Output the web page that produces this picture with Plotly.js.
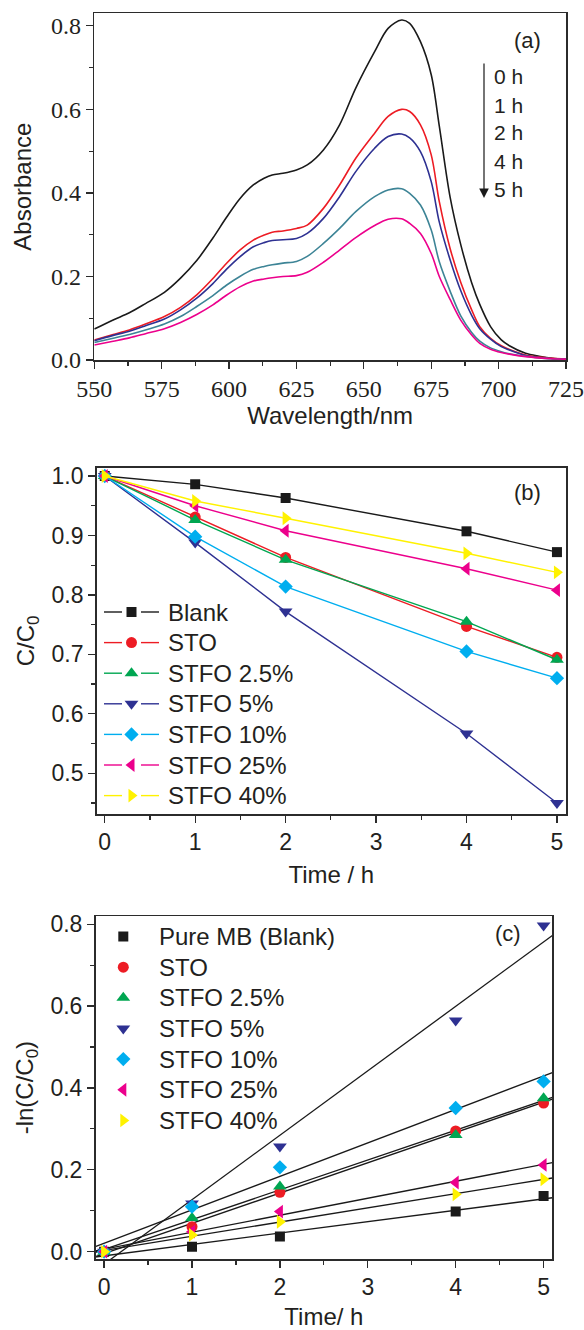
<!DOCTYPE html>
<html>
<head>
<meta charset="utf-8">
<script src="https://cdn.plot.ly/plotly-3.0.1.min.js"></script>
<style>html,body{margin:0;padding:0;background:#fff}#chart{width:584px;height:1330px}</style>
</head>
<body>
<div id="chart"></div>
<script>
// ---------- Panel (a): UV-vis spectra ----------
var wavelength = [550,557,563,569,576,582,588,594,599,604,609,613,616,620,625,629,635,641,647,654,659,664,667,671,675,678,682,686,690,693,697,701,704,710,715,720,725];
var abs0h = [0.074,0.096,0.113,0.135,0.162,0.196,0.238,0.292,0.341,0.386,0.419,0.435,0.443,0.447,0.455,0.467,0.503,0.563,0.651,0.738,0.794,0.814,0.806,0.762,0.683,0.560,0.390,0.275,0.185,0.133,0.080,0.048,0.034,0.016,0.009,0.004,0.002];
var abs1h = [0.048,0.061,0.072,0.086,0.104,0.126,0.156,0.195,0.231,0.263,0.287,0.299,0.306,0.309,0.315,0.323,0.363,0.419,0.483,0.543,0.583,0.600,0.595,0.563,0.491,0.379,0.267,0.185,0.120,0.080,0.052,0.034,0.025,0.012,0.007,0.004,0.002];
var abs2h = [0.046,0.059,0.069,0.082,0.098,0.120,0.148,0.183,0.217,0.247,0.271,0.281,0.286,0.288,0.291,0.303,0.339,0.391,0.451,0.507,0.535,0.541,0.532,0.499,0.427,0.330,0.240,0.165,0.107,0.075,0.050,0.032,0.024,0.011,0.006,0.003,0.002];
var abs4h = [0.042,0.052,0.061,0.072,0.086,0.104,0.128,0.154,0.179,0.200,0.217,0.224,0.228,0.232,0.236,0.248,0.279,0.315,0.355,0.391,0.407,0.410,0.399,0.371,0.311,0.235,0.165,0.105,0.066,0.045,0.029,0.020,0.015,0.009,0.005,0.003,0.002];
var abs5h = [0.036,0.045,0.053,0.063,0.075,0.090,0.109,0.132,0.155,0.175,0.189,0.194,0.197,0.200,0.202,0.210,0.234,0.263,0.293,0.322,0.337,0.338,0.327,0.303,0.255,0.200,0.145,0.095,0.060,0.040,0.026,0.018,0.014,0.008,0.005,0.003,0.002];
var spectraLabels = ['0 h','1 h','2 h','4 h','5 h'];

// ---------- Panel (b): C/C0 vs time ----------
var timeH = [0,1,2,4,5];
var sampleNamesB = ['Blank','STO','STFO 2.5%','STFO 5%','STFO 10%','STFO 25%','STFO 40%'];
var ccBlank  = [1.0,0.986,0.963,0.907,0.872];
var ccSTO    = [1.0,0.931,0.863,0.747,0.695];
var ccSTFO2p5= [1.0,0.926,0.859,0.755,0.691];
var ccSTFO5  = [1.0,0.888,0.772,0.567,0.450];
var ccSTFO10 = [1.0,0.898,0.814,0.705,0.660];
var ccSTFO25 = [1.0,0.950,0.908,0.844,0.808];
var ccSTFO40 = [1.0,0.958,0.929,0.870,0.838];

// ---------- Panel (c): -ln(C/C0) vs time ----------
var sampleNamesC = ['Pure MB (Blank)','STO','STFO 2.5%','STFO 5%','STFO 10%','STFO 25%','STFO 40%'];
var lnBlank  = [0.0,0.012,0.037,0.098,0.136];
var lnSTO    = [0.0,0.061,0.145,0.295,0.363];
var lnSTFO2p5= [0.0,0.082,0.159,0.285,0.375];
var lnSTFO5  = [0.0,0.118,0.257,0.565,0.797];
var lnSTFO10 = [0.0,0.110,0.206,0.351,0.416];
var lnSTFO25 = [0.0,0.049,0.098,0.169,0.212];
var lnSTFO40 = [0.0,0.041,0.073,0.140,0.177];

var specColors = ['#1a1a1a','#ed1c24','#2e3192','#3d8496','#ec008c'];
var sampleColors = ['#1a1a1a','#ed1c24','#00a651','#2e3192','#00aeef','#ec008c','#fff200'];
var sampleSymbols = ['square','circle','triangle-up','triangle-down','diamond','triangle-left','triangle-right'];
var symbolSizes = [10,11,12,12,11,12,12];

var W = 584, H = 1330;
function px(x){return x/W;}
function py(y){return 1 - y/H;}

var traces = [];
var spectra = [abs0h,abs1h,abs2h,abs4h,abs5h];
spectra.forEach(function(s,i){
  traces.push({x:wavelength,y:s,type:'scatter',mode:'lines',xaxis:'x',yaxis:'y',
    line:{color:specColors[i],width:1.6,shape:'spline',smoothing:0.9},hoverinfo:'skip'});
});

var seriesB = [ccBlank,ccSTO,ccSTFO2p5,ccSTFO5,ccSTFO10,ccSTFO25,ccSTFO40];
seriesB.forEach(function(s,i){
  traces.push({x:timeH,y:s,type:'scatter',mode:'lines+markers',xaxis:'x2',yaxis:'y2',name:sampleNamesB[i],
    line:{color:sampleColors[i],width:1.4},
    marker:{symbol:sampleSymbols[i],size:symbolSizes[i],color:sampleColors[i],line:{width:0}}});
});

var seriesC = [lnBlank,lnSTO,lnSTFO2p5,lnSTFO5,lnSTFO10,lnSTFO25,lnSTFO40];
function linfit(xs,ys){
  var n=xs.length,mx=0,my=0;for(var i=0;i<n;i++){mx+=xs[i];my+=ys[i];}mx/=n;my/=n;
  var sxy=0,sxx=0;for(var j=0;j<n;j++){sxy+=(xs[j]-mx)*(ys[j]-my);sxx+=(xs[j]-mx)*(xs[j]-mx);}
  var b=sxy/sxx;return {slope:b,intercept:my-b*mx};
}
var fitX = [-0.1,5.1];
seriesC.forEach(function(s,i){
  var f = linfit(timeH,s);
  traces.push({x:fitX,y:fitX.map(function(t){return f.intercept+f.slope*t;}),type:'scatter',mode:'lines',
    xaxis:'x3',yaxis:'y3',line:{color:'#1a1a1a',width:1.3},hoverinfo:'skip'});
});
seriesC.forEach(function(s,i){
  traces.push({x:timeH,y:s,type:'scatter',mode:'markers',xaxis:'x3',yaxis:'y3',name:sampleNamesC[i],
    marker:{symbol:sampleSymbols[i],size:symbolSizes[i],color:sampleColors[i],line:{width:0}}});
});

// ---------- Legend keys (drawn on a pixel-space overlay axis) ----------
var legB = {x0:104, x1:122, x2:141, x3:159, xm:131.5, xt:166, y0:612, dy:30.6};
var legC = {xm:123.3, xt:157, y0:936.5, dy:30.65};
sampleNamesB.forEach(function(n,i){
  var yy = legB.y0 + i*legB.dy;
  traces.push({x:[legB.x0,legB.x1,null,legB.x2,legB.x3],y:[yy,yy,null,yy,yy],type:'scatter',mode:'lines',
    xaxis:'x4',yaxis:'y4',line:{color:sampleColors[i],width:1.4},hoverinfo:'skip'});
  traces.push({x:[legB.xm],y:[yy],type:'scatter',mode:'markers',xaxis:'x4',yaxis:'y4',
    marker:{symbol:sampleSymbols[i],size:symbolSizes[i],color:sampleColors[i],line:{width:0}},hoverinfo:'skip'});
});
sampleNamesC.forEach(function(n,i){
  var yy = legC.y0 + i*legC.dy;
  traces.push({x:[legC.xm],y:[yy],type:'scatter',mode:'markers',xaxis:'x4',yaxis:'y4',
    marker:{symbol:sampleSymbols[i],size:symbolSizes[i],color:sampleColors[i],line:{width:0}},hoverinfo:'skip'});
});

var txt = '#231f20';
var sans = '"Liberation Sans", Arial, sans-serif';
var serif = '"Liberation Serif", "Times New Roman", "DejaVu Serif", serif';
function minorT(d){return {ticks:'outside',ticklen:4,tickwidth:1.2,tickcolor:'#2b2b2b',dtick:d,showgrid:false};}
function axisBase(extra){
  var a = {showline:true,linecolor:'#2b2b2b',linewidth:1.5,mirror:true,ticks:'outside',ticklen:7,tickwidth:1.3,
    tickcolor:'#2b2b2b',showgrid:false,zeroline:false,fixedrange:true};
  for (var k in extra) a[k]=extra[k];
  return a;
}

var layout = {
  width:W,height:H,margin:{l:0,r:0,t:0,b:0},paper_bgcolor:'#fff',plot_bgcolor:'rgba(0,0,0,0)',showlegend:false,
  hovermode:false,font:{family:sans,color:txt},
  xaxis: axisBase({domain:[px(94.3),px(566)],anchor:'y',range:[550,725],dtick:25,tick0:550,minor:minorT(12.5),
    tickfont:{family:serif,size:24,color:txt},
    title:{text:'Wavelength/nm',font:{family:sans,size:24,color:txt},standoff:5}}),
  yaxis: axisBase({domain:[py(360),py(13.3)],anchor:'x',range:[0,0.83],dtick:0.2,tick0:0,tickformat:'.1f',minor:minorT(0.1),
    tickfont:{family:serif,size:24,color:txt},
    title:{text:'Absorbance',font:{family:sans,size:24,color:txt},standoff:12}}),
  xaxis2: axisBase({domain:[px(96.6),px(566)],anchor:'y2',range:[-0.09,5.1],dtick:1,tick0:0,minor:minorT(0.5),
    tickfont:{family:sans,size:23,color:txt},
    title:{text:'Time / h',font:{family:sans,size:24,color:txt},standoff:12}}),
  yaxis2: axisBase({domain:[py(814.3),py(467.7)],anchor:'x2',range:[0.431,1.014],dtick:0.1,tick0:0.5,tickformat:'.1f',minor:minorT(0.05),
    tickfont:{family:sans,size:23,color:txt},
    title:{text:'C/C<sub>0</sub>',font:{family:sans,size:24,color:txt},standoff:10}}),
  xaxis3: axisBase({domain:[px(95.5),px(552.2)],anchor:'y3',range:[-0.098,5.098],dtick:1,tick0:0,minor:minorT(0.5),
    tickfont:{family:sans,size:23,color:txt},
    title:{text:'Time/ h',font:{family:sans,size:24,color:txt},standoff:12}}),
  yaxis3: axisBase({domain:[py(1259.3),py(916)],anchor:'x3',range:[-0.0186,0.82],dtick:0.2,tick0:0,tickformat:'.1f',minor:minorT(0.1),
    tickfont:{family:sans,size:23,color:txt},
    title:{text:'-ln(C/C<sub>0</sub>)',font:{family:sans,size:24,color:txt},standoff:10}}),
  xaxis4:{domain:[0,1],anchor:'y4',range:[0,W],visible:false,fixedrange:true},
  yaxis4:{domain:[0,1],anchor:'x4',range:[H,0],visible:false,fixedrange:true},
  annotations:[]
};

function addText(x,y,t,size,anchor){
  layout.annotations.push({xref:'paper',yref:'paper',x:px(x),y:py(y),text:t,showarrow:false,
    font:{family:sans,size:size,color:txt},xanchor:anchor||'left',yanchor:'middle'});
}
addText(527,40,'(a)',22,'center');
addText(527,492,'(b)',22,'center');
addText(508,933,'(c)',22,'center');
var labelY = [77,105,133,162,190];
spectraLabels.forEach(function(t,i){ addText(492,labelY[i],t,21); });
layout.annotations.push({xref:'paper',yref:'paper',x:px(484),y:py(198),ax:0,ay:-136,text:'',showarrow:true,
  arrowhead:2,arrowsize:1.6,arrowwidth:1.2,arrowcolor:'#1a1a1a',standoff:0,startstandoff:0});
sampleNamesB.forEach(function(n,i){ addText(legB.xt, legB.y0 + i*legB.dy, n, 24); });
sampleNamesC.forEach(function(n,i){ addText(legC.xt, legC.y0 + i*legC.dy, n, 24); });

Plotly.newPlot('chart',traces,layout,{staticPlot:true,displayModeBar:false});
</script>
</body>
</html>
